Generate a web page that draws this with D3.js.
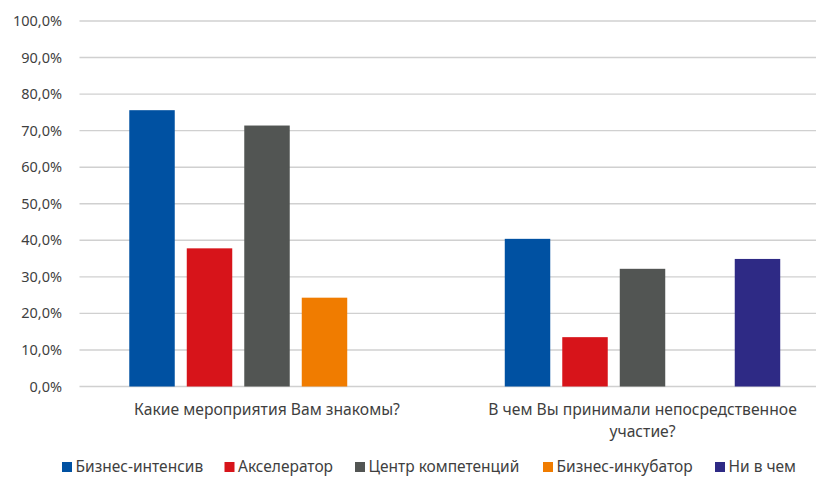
<!DOCTYPE html>
<html>
<head>
<meta charset="utf-8">
<script src="https://cdnjs.cloudflare.com/ajax/libs/d3/7.8.5/d3.min.js"></script>
<style>
  body { margin: 0; background: #fff; }
  svg text { font-family: "Noto Sans", sans-serif; fill: #3f3f3f; }
</style>
</head>
<body>
<svg id="chart" width="816" height="477"></svg>
<script>
// categories (questions)
var categories = [
  ['Какие мероприятия Вам знакомы?'],
  ['В чем Вы принимали непосредственное', 'участие?']
];
var series = ['Бизнес-интенсив', 'Акселератор', 'Центр компетенций', 'Бизнес-инкубатор', 'Ни в чем'];
var colors = ['#0051a2', '#d7141a', '#525553', '#f07c00', '#2e2a85'];

// values in %, null = no bar
var intensiv  = [75.6, 40.4];
var accel     = [37.8, 13.5];
var centr     = [71.4, 32.2];
var incubator = [24.3, null];
var nothing   = [null, 34.9];
var values = [intensiv, accel, centr, incubator, nothing];

var yTicks = [0, 10, 20, 30, 40, 50, 60, 70, 80, 90, 100];

var svg = d3.select('#chart');

var y = d3.scaleLinear().domain([0, 100]).range([386.5, 21]);
var x0 = d3.scaleBand().domain(d3.range(categories.length)).range([79.25, 830.25]);
var x1 = d3.scaleBand().domain(d3.range(series.length)).range([0, x0.bandwidth()]).paddingInner(0.209).paddingOuter(0.87);

// grid lines
svg.append('g').selectAll('line')
  .data(yTicks)
  .enter().append('line')
    .attr('x1', 79.5)
    .attr('x2', 816)
    .attr('y1', function(d){ return y(d); })
    .attr('y2', function(d){ return y(d); })
    .attr('stroke', '#d0d0d0')
    .attr('stroke-width', 1.4);

// y labels
var fmt = function(d){ return d.toFixed(1).replace('.', ',') + '%'; };
svg.append('g').selectAll('text')
  .data(yTicks)
  .enter().append('text')
    .attr('x', 62)
    .attr('y', function(d){ return y(d); })
    .attr('dy', '0.35em')
    .attr('text-anchor', 'end')
    .style('font-size', '14.5px')
    .text(fmt);

// bars
var groups = svg.append('g').selectAll('g')
  .data(categories)
  .enter().append('g')
    .attr('transform', function(d, i){ return 'translate(' + x0(i) + ',0)'; });

groups.selectAll('rect')
  .data(function(d, i){
    return values.map(function(v, s){ return { s: s, v: v[i] }; }).filter(function(o){ return o.v != null; });
  })
  .enter().append('rect')
    .attr('x', function(d){ return x1(d.s); })
    .attr('width', x1.bandwidth())
    .attr('y', function(d){ return y(d.v); })
    .attr('height', function(d){ return y(0) - y(d.v); })
    .attr('fill', function(d){ return colors[d.s]; });

// category labels
groups.each(function(lines){
  var g = d3.select(this);
  lines.forEach(function(t, k){
    g.append('text')
      .attr('x', x0.bandwidth() / 2)
      .attr('y', 410 + k * 21.5)
      .attr('dy', '0.35em')
      .attr('text-anchor', 'middle')
      .style('font-size', '15.7px')
      .text(t);
  });
});

// legend (pulled up a bit so descenders stay inside the frame)
var legendX = [62, 224.5, 355, 543, 715];
var legend = svg.append('g').selectAll('g')
  .data(series)
  .enter().append('g')
    .attr('transform', function(d, i){ return 'translate(' + legendX[i] + ',466.5)'; });

legend.append('rect')
  .attr('x', 0)
  .attr('y', -4.5)
  .attr('width', 10)
  .attr('height', 10)
  .attr('fill', function(d, i){ return colors[i]; });

legend.append('text')
  .attr('x', 13.5)
  .attr('y', 0)
  .attr('dy', '0.35em')
  .style('font-size', '15.5px')
  .text(function(d){ return d; });
</script>
</body>
</html>
